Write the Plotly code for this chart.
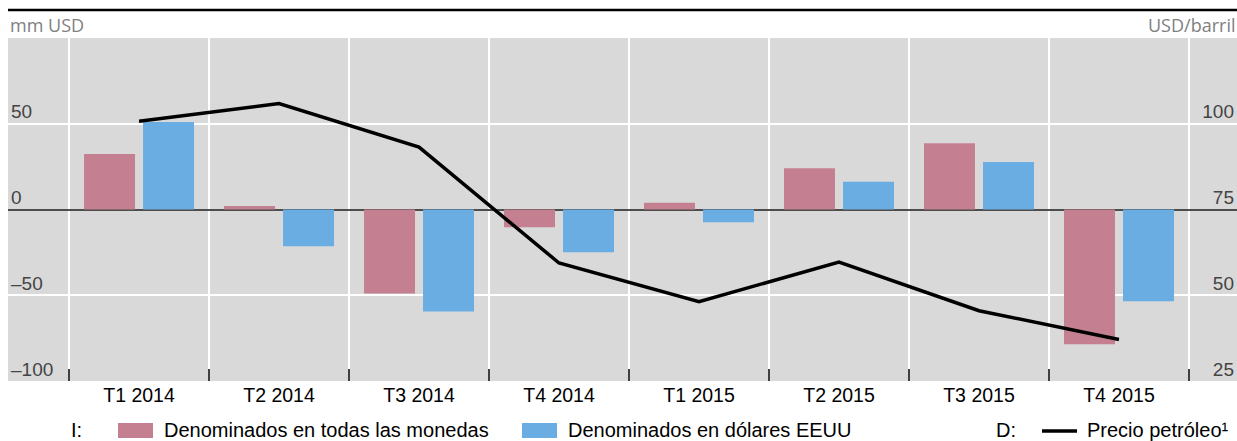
import plotly.graph_objects as go

quarters = ["T1 2014", "T2 2014", "T3 2014", "T4 2014",
            "T1 2015", "T2 2015", "T3 2015", "T4 2015"]
todas_monedas = [32.4, 2.0, -49.0, -10.4, 4.0, 24.0, 38.7, -78.6]
dolares_eeuu = [51.0, -21.4, -59.5, -24.9, -7.5, 16.2, 27.7, -53.5]
precio_petroleo = [100.7, 105.9, 93.2, 59.4, 48.1, 59.7, 45.5, 37.1]

left_ticks = [-100, -50, 0, 50]
left_text = ["–100", "–50", "0", "50"]
right_ticks = [25, 50, 75, 100]

PINK = "#C48090"
BLUE = "#6AADE2"
GREY_TXT = "#808080"
FONT = "Liberation Sans, Arial, sans-serif"

W, H = 1237, 441
L, R, T, B = 8, 1237, 38, 381   # plot area in page pixels


def px(x):
    return (x - L) / (R - L)


def py(y):
    return (B - y) / (B - T)


fig = go.Figure()

fig.add_trace(go.Bar(x=quarters, y=todas_monedas, marker_color=PINK,
                     marker_line_width=0, name="Denominados en todas las monedas"))
fig.add_trace(go.Bar(x=quarters, y=dolares_eeuu, marker_color=BLUE,
                     marker_line_width=0, name="Denominados en dólares EEUU"))
fig.add_trace(go.Scatter(x=quarters, y=precio_petroleo, yaxis="y2", mode="lines",
                         line=dict(color="black", width=3.5), name="Precio petróleo"))

fig.update_layout(
    width=W, height=H,
    margin=dict(l=L, r=W - R, t=T, b=H - B),
    paper_bgcolor="white",
    plot_bgcolor="#D9D9D9",
    showlegend=False,
    barmode="group",
    bargap=0.157,
    bargroupgap=0.136,
    font=dict(family=FONT, size=19, color="black"),
    xaxis=dict(
        range=[-0.936, 7.843],
        tickson="boundaries",
        ticks="inside", ticklen=12, tickwidth=2, tickcolor="#404040",
        showgrid=True, gridcolor="white", gridwidth=1.5,
        showline=False, zeroline=False,
        tickfont=dict(size=19.5),
    ),
    yaxis=dict(
        range=[-100, 100],
        tickvals=left_ticks, ticktext=left_text,
        ticklabelposition="inside", ticklabelshift=-12,
        ticks="", showgrid=True, gridcolor="white", gridwidth=1.5,
        zeroline=True, zerolinecolor="#4D4D4D", zerolinewidth=2,
        showline=False,
    ),
    yaxis2=dict(
        range=[25, 125], overlaying="y", side="right",
        tickvals=right_ticks,
        ticklabelposition="inside", ticklabelshift=-12,
        ticks="", showgrid=False, zeroline=False, showline=False,
    ),
)

# top rule and axis unit labels
fig.add_shape(type="line", xref="paper", yref="paper", x0=0, x1=1,
              y0=py(10), y1=py(10), line=dict(color="black", width=2.5))
fig.add_annotation(text="mm USD", xref="paper", yref="paper", x=0, y=py(25),
                   xanchor="left", yanchor="middle", showarrow=False,
                   font=dict(family="Open Sans", size=18, color=GREY_TXT))
fig.add_annotation(text="USD/barril", xref="paper", yref="paper", x=1, y=py(25),
                   xanchor="right", yanchor="middle", showarrow=False,
                   font=dict(family="Open Sans", size=18, color=GREY_TXT))

# legend drawn by hand
ly = 430
fig.add_shape(type="rect", xref="paper", yref="paper", x0=px(118), x1=px(153),
              y0=py(423), y1=py(438), fillcolor=PINK, line_width=0)
fig.add_shape(type="rect", xref="paper", yref="paper", x0=px(522), x1=px(557),
              y0=py(423), y1=py(438), fillcolor=BLUE, line_width=0)
fig.add_shape(type="line", xref="paper", yref="paper", x0=px(1042), x1=px(1077),
              y0=py(431), y1=py(431), line=dict(color="black", width=3.5))
for txt, x in [("I:", 69), ("Denominados en todas las monedas", 162),
               ("Denominados en dólares EEUU", 566), ("D:", 994),
               ("Precio petróleo¹", 1085)]:
    fig.add_annotation(text=txt, xref="paper", yref="paper", x=px(x), y=py(ly),
                       xanchor="left", yanchor="middle", showarrow=False,
                       font=dict(size=20))

# drop the default 8px page margin so the figure fills the window exactly
fig.write_html("out.html", config={"displayModeBar": False},
               post_script="document.body.style.margin='0';")
